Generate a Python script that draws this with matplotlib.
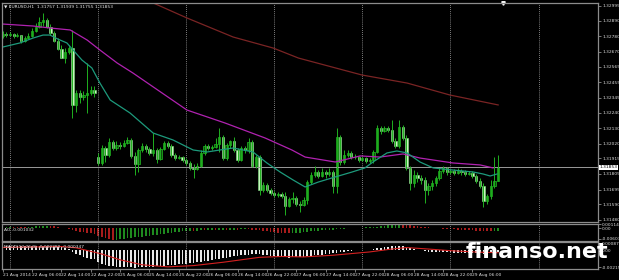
import numpy as np
import matplotlib.pyplot as plt
from matplotlib.transforms import blended_transform_factory

# EURUSD H1, 21 Aug 2014 22:00 -> 29 Aug 2014 13:00 (one value per bar)
opens = [
    1.32782, 1.32796, 1.32789, 1.32796, 1.32782, 1.32789, 1.32747, 1.32768, 1.32782, 1.32818,
    1.32846, 1.32881, 1.32895, 1.32846, 1.32803, 1.32747, 1.32690, 1.32626, 1.32669, 1.32697,
    1.32294, 1.32379, 1.32350, 1.32364, 1.32379, 1.32400, 1.31925, 1.31883, 1.31989, 1.31940,
    1.32032, 1.31989, 1.32010, 1.32003, 1.32025, 1.32046, 1.31933, 1.31876, 1.31975, 1.32003,
    1.31982, 1.31954, 1.31975, 1.31911, 1.31982, 1.32025, 1.32003, 1.31940, 1.31918, 1.31925,
    1.31904, 1.31883, 1.31848, 1.31840, 1.31862, 1.31954, 1.32003, 1.31989, 1.31996, 1.32017,
    1.32067, 1.31918, 1.32010, 1.32039, 1.31975, 1.31904, 1.31989, 1.31975, 1.32032, 1.31862,
    1.31925, 1.31692, 1.31727, 1.31692, 1.31671, 1.31656, 1.31663, 1.31649, 1.31579, 1.31628,
    1.31635, 1.31593, 1.31586, 1.31621, 1.31748, 1.31798, 1.31819, 1.31791, 1.31819, 1.31805,
    1.31819, 1.31720, 1.32067, 1.31890, 1.31940, 1.31954, 1.31925, 1.31925, 1.31904, 1.31918,
    1.31897, 1.31904, 1.31961, 1.32131, 1.32110, 1.32131, 1.32117, 1.32039, 1.32003, 1.32138,
    1.32060, 1.31848, 1.31741, 1.31798, 1.31777, 1.31763, 1.31692, 1.31720, 1.31741, 1.31777,
    1.31826, 1.31848, 1.31819, 1.31826, 1.31812, 1.31826, 1.31819, 1.31805, 1.31812, 1.31791,
    1.31756, 1.31720, 1.31614, 1.31649, 1.31720, 1.31757,
]
highs = [
    1.32818, 1.32810, 1.32810, 1.32803, 1.32803, 1.32789, 1.32782, 1.32803, 1.32839, 1.32874,
    1.32917, 1.32945, 1.32910, 1.32867, 1.32818, 1.32768, 1.32718, 1.32697, 1.32718, 1.32825,
    1.32400, 1.32400, 1.32393, 1.32591, 1.32428, 1.32428, 1.31954, 1.32010, 1.32003, 1.32060,
    1.32046, 1.32039, 1.32032, 1.32046, 1.32067, 1.32060, 1.31961, 1.31989, 1.32025, 1.32017,
    1.31996, 1.32095, 1.31989, 1.31996, 1.32039, 1.32039, 1.32017, 1.31954, 1.31940, 1.31933,
    1.31918, 1.31897, 1.31876, 1.31883, 1.31975, 1.32017, 1.32017, 1.32010, 1.32060, 1.32131,
    1.32081, 1.32025, 1.32046, 1.32067, 1.31989, 1.32003, 1.32003, 1.32060, 1.32046, 1.31940,
    1.31940, 1.31748, 1.31741, 1.31706, 1.31685, 1.31678, 1.31678, 1.31678, 1.31642, 1.31678,
    1.31649, 1.31614, 1.31642, 1.31763, 1.31819, 1.31862, 1.31833, 1.31848, 1.31833, 1.31848,
    1.31833, 1.32131, 1.32081, 1.31975, 1.31975, 1.31968, 1.31947, 1.31933, 1.31933, 1.31925,
    1.31918, 1.31975, 1.32152, 1.32145, 1.32145, 1.32145, 1.32187, 1.32060, 1.32187, 1.32152,
    1.32081, 1.31862, 1.31833, 1.31819, 1.31798, 1.31784, 1.31741, 1.31763, 1.31791, 1.31848,
    1.31862, 1.31855, 1.31840, 1.31840, 1.31848, 1.31840, 1.31833, 1.31826, 1.31826, 1.31805,
    1.31777, 1.31741, 1.31663, 1.31763, 1.31925, 1.31939,
]
lows = [
    1.32768, 1.32775, 1.32782, 1.32768, 1.32775, 1.32733, 1.32740, 1.32761, 1.32775, 1.32810,
    1.32839, 1.32853, 1.32839, 1.32789, 1.32740, 1.32683, 1.32626, 1.32591, 1.32655, 1.32202,
    1.32244, 1.32308, 1.32329, 1.32237, 1.32364, 1.32350, 1.31869, 1.31869, 1.31890, 1.31925,
    1.31975, 1.31975, 1.31982, 1.31996, 1.32017, 1.31918, 1.31798, 1.31819, 1.31961, 1.31961,
    1.31940, 1.31933, 1.31883, 1.31904, 1.31975, 1.31989, 1.31925, 1.31904, 1.31911, 1.31890,
    1.31869, 1.31833, 1.31777, 1.31833, 1.31855, 1.31940, 1.31975, 1.31975, 1.31989, 1.31961,
    1.31904, 1.31904, 1.31989, 1.31961, 1.31890, 1.31897, 1.31954, 1.31954, 1.31855, 1.31848,
    1.31656, 1.31678, 1.31678, 1.31656, 1.31642, 1.31642, 1.31635, 1.31515, 1.31571, 1.31600,
    1.31579, 1.31536, 1.31579, 1.31593, 1.31734, 1.31784, 1.31777, 1.31784, 1.31777, 1.31791,
    1.31671, 1.31671, 1.31869, 1.31876, 1.31925, 1.31911, 1.31911, 1.31890, 1.31897, 1.31883,
    1.31883, 1.31883, 1.31954, 1.32088, 1.32102, 1.32102, 1.32025, 1.31989, 1.31989, 1.32046,
    1.31833, 1.31692, 1.31713, 1.31748, 1.31734, 1.31600, 1.31656, 1.31692, 1.31720, 1.31763,
    1.31812, 1.31798, 1.31805, 1.31798, 1.31805, 1.31798, 1.31791, 1.31798, 1.31777, 1.31741,
    1.31706, 1.31571, 1.31593, 1.31628, 1.31706, 1.31755,
]
closes = [
    1.32796, 1.32789, 1.32796, 1.32782, 1.32789, 1.32747, 1.32768, 1.32782, 1.32818, 1.32846,
    1.32881, 1.32895, 1.32846, 1.32803, 1.32747, 1.32690, 1.32626, 1.32669, 1.32697, 1.32294,
    1.32379, 1.32350, 1.32364, 1.32379, 1.32400, 1.32379, 1.31883, 1.31989, 1.31940, 1.32032,
    1.31989, 1.32010, 1.32003, 1.32025, 1.32046, 1.31933, 1.31876, 1.31975, 1.32003, 1.31982,
    1.31954, 1.31975, 1.31911, 1.31982, 1.32025, 1.32003, 1.31940, 1.31918, 1.31925, 1.31904,
    1.31883, 1.31848, 1.31840, 1.31862, 1.31954, 1.32003, 1.31989, 1.31996, 1.32017, 1.32067,
    1.31918, 1.32010, 1.32039, 1.31975, 1.31904, 1.31989, 1.31975, 1.32032, 1.31862, 1.31925,
    1.31692, 1.31727, 1.31692, 1.31671, 1.31656, 1.31663, 1.31649, 1.31579, 1.31628, 1.31635,
    1.31593, 1.31586, 1.31621, 1.31748, 1.31798, 1.31819, 1.31791, 1.31819, 1.31805, 1.31819,
    1.31720, 1.32067, 1.31890, 1.31940, 1.31954, 1.31925, 1.31925, 1.31904, 1.31918, 1.31897,
    1.31904, 1.31961, 1.32131, 1.32110, 1.32131, 1.32117, 1.32039, 1.32003, 1.32138, 1.32060,
    1.31848, 1.31741, 1.31798, 1.31777, 1.31763, 1.31692, 1.31720, 1.31741, 1.31777, 1.31826,
    1.31848, 1.31819, 1.31826, 1.31812, 1.31826, 1.31819, 1.31805, 1.31812, 1.31791, 1.31756,
    1.31720, 1.31614, 1.31649, 1.31720, 1.31757, 1.31853,
]

# moving averages as (bar, price) points
ma_fast_x = [0, 4.7, 8.3, 11, 12.9, 15, 17.5, 19.2, 21.6, 24.3, 26.5, 29.3, 34.7, 41, 46.4,
             51.9, 55.7, 59.2, 62.8, 68.2, 72, 75.6, 79.1, 82.4, 86, 90.6, 95.2, 98.7, 100.9,
             104.7, 107.4, 110.2, 113.7, 117.3, 122.7, 128.2, 130.9, 132.8, 134.7]
ma_fast_y = [1.32704, 1.32733, 1.32768, 1.32789, 1.32789, 1.32761, 1.32733, 1.32683, 1.32612,
             1.32556, 1.32449, 1.32329, 1.32237, 1.32095, 1.32046, 1.31975, 1.31961, 1.31975,
             1.31989, 1.31961, 1.31883, 1.31819, 1.31763, 1.31713, 1.31748, 1.31784, 1.31819,
             1.31848, 1.31890, 1.31954, 1.31968, 1.31954, 1.31890, 1.31848, 1.31833, 1.31819,
             1.31805, 1.31791, 1.31805]
ma_mid_x = [0, 8.3, 12.9, 18.4, 23, 26.5, 31.2, 35.5, 50.2, 60.6, 71.5, 78.8, 82.4, 90.6,
            97.4, 102.8, 109.1, 113.7, 122.7, 130.1, 133.6]
ma_mid_y = [1.32867, 1.32853, 1.32839, 1.32825, 1.32754, 1.32683, 1.32591, 1.32520, 1.32258,
            1.32166, 1.32060, 1.31975, 1.31925, 1.31890, 1.31933, 1.31925, 1.31947, 1.31918,
            1.31883, 1.31869, 1.31848]
ma_slow_x = [37.4, 50.2, 62.8, 73.7, 80.6, 97.9, 110.2, 121.9, 135]
ma_slow_y = [1.33058, 1.32910, 1.32775, 1.32697, 1.32626, 1.32506, 1.32449, 1.32364, 1.32294]

# Awesome Oscillator, one value per bar (x 1e-3)
ao = [
    0.30, 0.32, 0.33, 0.30, 0.28, 0.25, 0.22, 0.24, 0.30, 0.38,
    0.45, 0.52, 0.55, 0.50, 0.40, 0.25, 0.05, -0.15, -0.30, -0.65,
    -0.95, -1.20, -1.40, -1.55, -1.70, -1.85, -2.40, -2.85, -3.20, -3.45,
    -3.60, -3.55, -3.40, -3.25, -3.10, -3.00, -2.90, -2.80, -2.65, -2.50,
    -2.35, -2.20, -2.05, -1.90, -1.75, -1.60, -1.45, -1.30, -1.15, -1.00,
    -0.95, -0.90, -0.92, -0.85, -0.80, -0.82, -0.75, -0.70, -0.72, -0.65,
    -0.60, -0.62, -0.58, -0.55, -0.57, -0.52, -0.50, -0.53, -0.55, -0.60,
    -0.75, -0.90, -1.05, -1.20, -1.35, -1.45, -1.55, -1.65, -1.70, -1.68,
    -1.60, -1.50, -1.40, -1.25, -1.10, -0.95, -0.85, -0.75, -0.68, -0.60,
    -0.55, -0.45, -0.35, -0.25, -0.18, -0.10, -0.05, 0.00, 0.05, 0.10,
    0.15, 0.22, 0.35, 0.50, 0.62, 0.72, 0.80, 0.85, 0.88, 0.86,
    0.80, 0.70, 0.58, 0.45, 0.32, 0.20, 0.10, 0.00, -0.08, -0.15,
    -0.30, -0.38, -0.45, -0.52, -0.58, -0.64, -0.70, -0.76, -0.82, -0.88,
    -0.95, -1.02, -1.08, -1.10, -1.07, -1.03,
]

# MACD(12,26,9) main histogram per bar and signal line points (x 1e-3)
macd = [
    0.42, 0.43, 0.44, 0.45, 0.45, 0.44, 0.42, 0.41, 0.42, 0.44,
    0.47, 0.50, 0.52, 0.51, 0.47, 0.40, 0.30, 0.20, 0.10, -0.20,
    -0.45, -0.65, -0.82, -0.95, -1.05, -1.12, -1.45, -1.65, -1.80, -1.92,
    -2.00, -2.05, -2.08, -2.10, -2.10, -2.12, -2.14, -2.12, -2.10, -2.08,
    -2.05, -2.02, -1.98, -1.94, -1.90, -1.86, -1.82, -1.78, -1.74, -1.70,
    -1.66, -1.62, -1.58, -1.52, -1.45, -1.38, -1.30, -1.22, -1.15, -1.06,
    -1.00, -0.94, -0.86, -0.80, -0.74, -0.68, -0.62, -0.56, -0.52, -0.48,
    -0.55, -0.62, -0.68, -0.74, -0.80, -0.85, -0.88, -0.92, -0.93, -0.92,
    -0.90, -0.88, -0.85, -0.80, -0.74, -0.68, -0.62, -0.56, -0.50, -0.45,
    -0.42, -0.32, -0.25, -0.20, -0.15, -0.11, -0.07, -0.04, -0.01, 0.02,
    0.04, 0.08, 0.18, 0.26, 0.33, 0.38, 0.42, 0.44, 0.46, 0.43,
    0.32, 0.20, 0.10, 0.02, -0.05, -0.14, -0.20, -0.24, -0.27, -0.28,
    -0.29, -0.30, -0.31, -0.32, -0.33, -0.33, -0.34, -0.35, -0.36, -0.38,
    -0.40, -0.44, -0.42, -0.38, -0.33, -0.28,
]
signal_x = [0, 16, 20, 27, 32, 38, 45, 52, 60, 70, 76, 82, 90, 100, 106, 110, 116, 122, 130, 135]
signal_y = [0.30, 0.40, 0.25, -0.50, -1.20, -1.80, -2.05, -1.90, -1.50, -0.90, -0.80, -0.85,
            -0.65, -0.25, 0.10, 0.28, 0.10, -0.10, -0.28, -0.347]

time_ticks = [0, 8, 16, 24, 32, 40, 48, 56, 64, 72, 80, 88, 96, 104, 112, 120, 128]
time_labels = ['21 Aug 2014', '22 Aug 06:00', '22 Aug 14:00', '22 Aug 22:00', '25 Aug 06:00',
               '25 Aug 14:00', '25 Aug 22:00', '26 Aug 06:00', '26 Aug 14:00', '26 Aug 22:00',
               '27 Aug 06:00', '27 Aug 14:00', '27 Aug 22:00', '28 Aug 06:00', '28 Aug 14:00',
               '28 Aug 22:00', '29 Aug 06:00']
day_starts = [2, 26, 50, 74, 98, 122, 146]
price_ticks = [1.32995, 1.32890, 1.32780, 1.32670, 1.32565, 1.32455, 1.32345, 1.32240,
               1.32130, 1.32020, 1.31915, 1.31805, 1.31695, 1.31590, 1.31480]

W, H = 619, 280
FS = 3.2
bars = np.arange(len(closes))
o = np.array(opens)
c = np.array(closes)

fig = plt.figure(figsize=(W / 100, H / 100), dpi=100, facecolor='black')
ax = fig.add_axes([2 / W, 58 / H, 596 / W, 219 / H])
ax_ao = fig.add_axes([2 / W, 39 / H, 596 / W, 17.5 / H])
ax_macd = fig.add_axes([2 / W, 11.5 / H, 596 / W, 26.5 / H])

xlim = (-0.18, 162.2)
for a in (ax, ax_ao, ax_macd):
    a.set_facecolor('black')
    a.set_xlim(*xlim)
    for s in a.spines.values():
        s.set_color('#8c8c8c')
        s.set_linewidth(0.9)
    a.tick_params(axis='x', bottom=False, labelbottom=False)
    a.yaxis.tick_right()
    a.tick_params(axis='y', colors='#8c8c8c', labelcolor='#dcdcdc', labelsize=FS,
                  length=2, width=0.6, pad=1)
    for d in day_starts:
        a.axvline(d, color='#a8a8a8', lw=0.6, ls=(0, (1, 1.5)))

# main price panel
ax.set_ylim(1.31465, 1.33016)
ax.set_yticks(price_ticks)
ax.set_yticklabels([f'{p:.5f}' for p in price_ticks])
ax.axhline(closes[-1], color='#9a9a9a', lw=0.7)

ax.vlines(bars, lows, highs, color='#1fb01f', lw=0.7)
up = c >= o
body = np.maximum(np.abs(c - o), 0.00002)
ax.bar(bars[up], body[up], bottom=o[up], width=0.62, color='#0f4f0f',
       edgecolor='#22c022', linewidth=0.5)
ax.bar(bars[~up], body[~up], bottom=c[~up], width=0.62, color='#c6f5bd',
       edgecolor='#7fe07f', linewidth=0.4)

ax.plot(ma_slow_x, ma_slow_y, color='#7a2424', lw=0.9)
ax.plot(ma_mid_x, ma_mid_y, color='#b022b0', lw=0.9)
ax.plot(ma_fast_x, ma_fast_y, color='#1d9a7c', lw=0.9)

ax.text(0.004, 0.993, '\u25bc EURUSD,H1  1.31757 1.31939 1.31755 1.31853', transform=ax.transAxes,
        ha='left', va='top', fontsize=FS, color='#e6e6e6')
ax.text(1.003, closes[-1], f'{closes[-1]:.5f}',
        transform=blended_transform_factory(ax.transAxes, ax.transData),
        ha='left', va='center', fontsize=FS, color='black', clip_on=False,
        bbox=dict(boxstyle='square,pad=0.15', facecolor='white', edgecolor='none'))
ax.plot([136.2], [1.0], marker='v', ms=2.5, color='white',
        transform=blended_transform_factory(ax.transData, ax.transAxes), clip_on=False)

# Awesome Oscillator panel
ao_v = np.array(ao) / 1000
ao_col = ['#1f8a1f' if i == 0 or ao_v[i] >= ao_v[i - 1] else '#a81c1c' for i in range(len(ao_v))]
ax_ao.bar(bars, ao_v, width=0.45, color=ao_col)
ax_ao.set_ylim(-0.0040, 0.00125)
ax_ao.set_yticks([0.00105, -0.0001, -0.0034])
ax_ao.set_yticklabels(['0.001144', '0.00', '-0.00603'])
ax_ao.text(0.004, 0.62, 'AO -0.001032', transform=ax_ao.transAxes, ha='left', va='center',
           fontsize=FS, color='#e6e6e6')

# MACD panel
ax_macd.bar(bars, np.array(macd) / 1000, width=0.45, color='#e8e8e8')
ax_macd.plot(signal_x, np.array(signal_y) / 1000, color='#d42020', lw=0.8)
ax_macd.set_ylim(-0.00225, 0.00095)
ax_macd.set_yticks([0.00080, -0.0001, -0.00210])
ax_macd.set_yticklabels(['0.000876', '0.00', '-0.002154'])
ax_macd.text(0.004, 0.82, 'MACD(12,26,9) -0.000280 -0.000347', transform=ax_macd.transAxes,
             ha='left', va='center', fontsize=FS, color='#e6e6e6')
ax_macd.set_xticks(time_ticks)
ax_macd.set_xticklabels(time_labels)
ax_macd.tick_params(axis='x', bottom=True, labelbottom=True, colors='#8c8c8c',
                    labelcolor='#dcdcdc', labelsize=FS, length=2, width=0.6, pad=1)
for lbl in ax_macd.get_xticklabels():
    lbl.set_ha('left')

fig.text(537 / W, 1 - 252 / H, 'finanso.net', ha='center', va='center', fontsize=16,
         fontweight='bold', color='white')

fig.savefig('out.png', dpi=100, facecolor='black')
